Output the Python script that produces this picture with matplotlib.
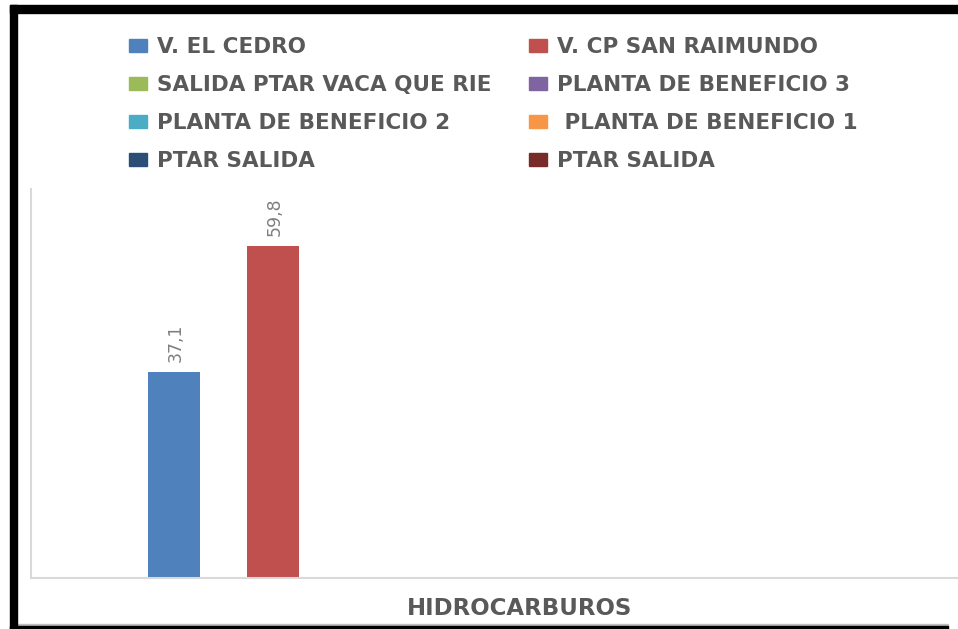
import numpy as np
import matplotlib
matplotlib.use("Agg")
import matplotlib.pyplot as plt
from matplotlib.patches import Patch, Rectangle

# ---------------- data ----------------
category = ["HIDROCARBUROS"]
series_names = [
    "V. EL CEDRO",
    "V. CP SAN RAIMUNDO",
    "SALIDA PTAR VACA QUE RIE",
    "PLANTA DE BENEFICIO 3",
    "PLANTA DE BENEFICIO 2",
    " PLANTA DE BENEFICIO 1",
    "PTAR SALIDA",
    "PTAR SALIDA",
]
series_values = [37.1, 59.8, np.nan, np.nan, np.nan, np.nan, np.nan, np.nan]
value_labels = ["37,1", "59,8", "", "", "", "", "", ""]
series_colors = ["#4f81bd", "#c0504d", "#9bbb59", "#8064a2",
                 "#4bacc6", "#f79646", "#2c4d75", "#772c2a"]

# ---------------- figure ----------------
W, H = 958, 629
fig = plt.figure(figsize=(W / 100, H / 100), dpi=100)
fig.patch.set_facecolor("white")


def px(x, y):
    return x / W, 1 - y / H


# axes (original plot area is cropped on the right side)
ax_left, ax_right, ax_top, ax_bottom = 31, 1009, 189, 578
ax = fig.add_axes([ax_left / W, 1 - ax_bottom / H,
                   (ax_right - ax_left) / W, (ax_bottom - ax_top) / H])
ax.set_facecolor("none")

n = len(series_names)
pitch = 98.8 / (ax_right - ax_left)
bw = 52.0 / (ax_right - ax_left)
for i, (name, val, col, lab) in enumerate(zip(series_names, series_values,
                                                series_colors, value_labels)):
    xpos = (i - (n - 1) / 2) * pitch
    ax.bar(xpos, val, width=bw, color=col, label=name, zorder=2)
    if lab:
        ax.annotate(lab, (xpos, val), xytext=(1, 7), textcoords="offset points",
                    rotation=90, ha="center", va="bottom",
                    fontsize=12.5, color="#7f7f7f",
                    family=["DejaVu Sans"])

ax.set_xlim(-0.5, 0.5)
ax.set_ylim(0, 70)
ax.set_yticks([])
ax.set_xticks([0])
ax.set_xticklabels(category, fontsize=16.5, fontweight="bold", color="#595959",
                   family=["DejaVu Sans"])
ax.tick_params(axis="x", length=0, pad=14)
for s in ["top", "right"]:
    ax.spines[s].set_visible(False)
for s in ["left", "bottom"]:
    ax.spines[s].set_color("#d9d9d9")
    ax.spines[s].set_linewidth(1.5)

# legends: two columns placed separately, row-major ordering
handles = [Patch(facecolor=c, edgecolor=c) for c in series_colors]
col_x = [129, 529]
for c in range(2):
    idx = [c, c + 2, c + 4, c + 6]
    leg = fig.legend([handles[k] for k in idx], [series_names[k] for k in idx],
                     loc="upper left", bbox_to_anchor=px(col_x[c], 37),
                     bbox_transform=fig.transFigure, frameon=False,
                     ncol=1, borderpad=0, borderaxespad=0,
                     handlelength=0.85, handleheight=0.55, handletextpad=0.45,
                     labelspacing=0.84,
                     prop={"size": 15.5, "weight": "bold", "family": "DejaVu Sans"})
    for t in leg.get_texts():
        t.set_color("#595959")

# black frame (partial: cropped on the right)
frame = [
    (10, 5, W - 10, 7.5),      # top band
    (10, 5, 7, H - 5),         # left band
    (10, 625.5, 938, 4),       # bottom band
]
for x, y, w, h in frame:
    fig.patches.append(Rectangle(px(x, y + h), w / W, h / H,
                                 transform=fig.transFigure, color="black",
                                 zorder=10))
# thin grey outline just above bottom band
fig.patches.append(Rectangle(px(17, 625.5), (948 - 17) / W, 1.2 / H,
                             transform=fig.transFigure, color="#bfbfbf", zorder=9))

fig.savefig("out.png", dpi=100, facecolor="white")
